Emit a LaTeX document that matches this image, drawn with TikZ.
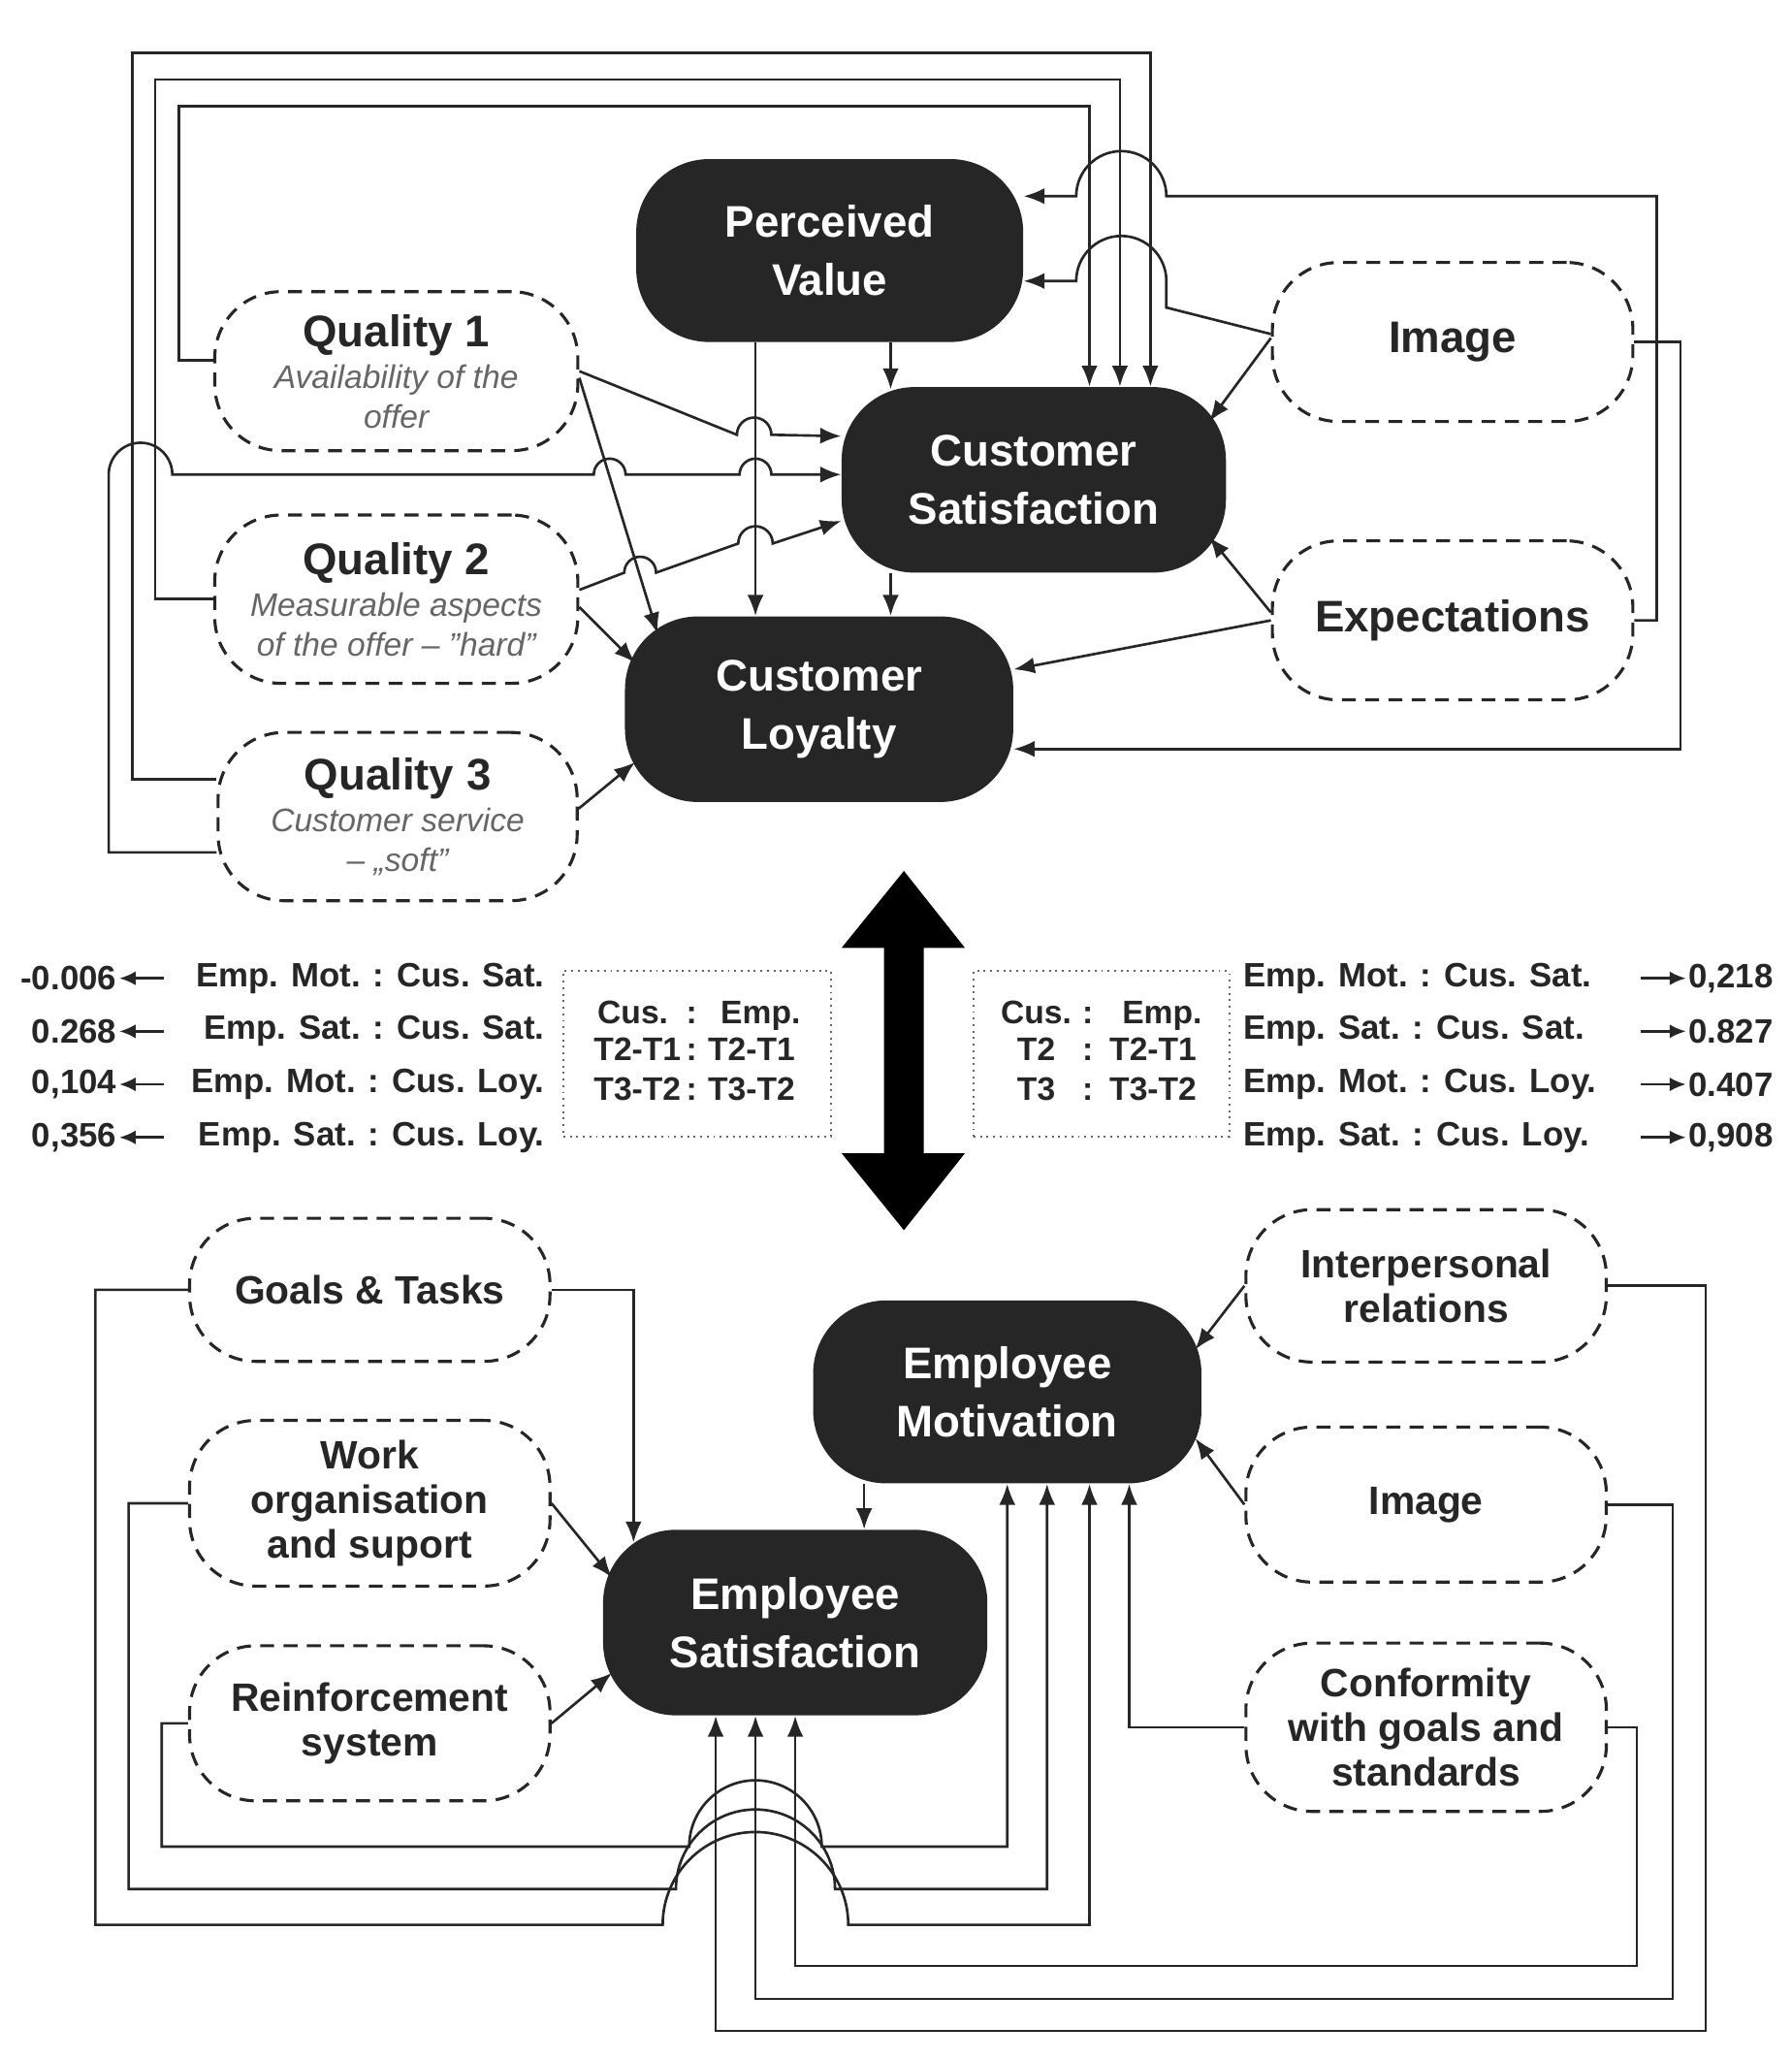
\documentclass[tikz,border=0pt]{standalone}
\usepackage{fontspec}
\setmainfont{Liberation Sans}
\usetikzlibrary{arrows.meta,calc}
\newcommand\subtx{\mdseries\itshape\fontsize{14}{16}\selectfont\color{black!60}}
\begin{document}
\begin{tikzpicture}[x=0.02cm,y=-0.02cm,
  con/.style={line width=1.1pt,draw=black!85},
  arr/.style={con,-{Latex[length=9pt,width=7pt]}},
  blk/.style={rectangle,rounded corners=1.1cm,fill=black!85,text=white,align=center,
    font=\bfseries\fontsize{19}{25}\selectfont,inner sep=0pt},
  dsh/.style={rectangle,rounded corners=1cm,draw=black!85,line width=1.3pt,dash pattern=on 6pt off 4pt,
    align=center,text=black!85,font=\bfseries\fontsize{19}{23}\selectfont,inner sep=0pt},
  dshb/.style={dsh,font=\bfseries\fontsize{17}{19}\selectfont},
  mid/.style={font=\bfseries\fontsize{14.5}{17}\selectfont,text=black!85,inner sep=1pt},
  box/.style={draw=black!60,dotted,line width=0.8pt,inner sep=0pt,font=\bfseries\fontsize{14}{17}\selectfont,text=black!85},
  sarr/.style={con,-{Latex[length=7pt,width=6pt]}}]
\useasboundingbox (0,0) rectangle (1352,1554);
% main nodes
\node[blk,minimum width=5.84cm,minimum height=2.76cm] (pv) at (626,189) {Perceived\\Value};
\node[blk,minimum width=5.8cm,minimum height=2.8cm] (cs) at (780,362) {Customer\\Satisfaction};
\node[blk,minimum width=5.86cm,minimum height=2.8cm] (cl) at (618,535) {Customer\\Loyalty};
\node[dsh,minimum width=5.48cm,minimum height=2.4cm] (q1) at (299,280) {Quality 1\\[-5pt]\subtx Availability of the\\[-6pt]\subtx offer};
\node[dsh,minimum width=5.48cm,minimum height=2.54cm] (q2) at (299,452) {Quality 2\\[-5pt]\subtx Measurable aspects\\[-6pt]\subtx of the offer -- \symbol{34}hard\symbol{34}};
\node[dsh,minimum width=5.42cm,minimum height=2.54cm] (q3) at (300,616) {Quality 3\\[-5pt]\subtx Customer service\\[-6pt]\subtx – „soft”};
\node[dsh,minimum width=5.44cm,minimum height=2.4cm] (im) at (1096,258) {Image};
\node[dsh,minimum width=5.44cm,minimum height=2.4cm] (ex) at (1096,468) {Expectations};
\node[blk,minimum width=5.86cm,minimum height=2.76cm] (em) at (760,1050) {Employee\\Motivation};
\node[blk,minimum width=5.8cm,minimum height=2.8cm] (es) at (600,1224) {Employee\\Satisfaction};
\node[dshb,minimum width=5.44cm,minimum height=2.16cm] (gt) at (279,973) {Goals \& Tasks};
\node[dshb,minimum width=5.44cm,minimum height=2.5cm] (wo) at (279,1134) {Work\\organisation\\and suport};
\node[dshb,minimum width=5.44cm,minimum height=2.34cm] (rs) at (279,1300) {Reinforcement\\system};
\node[dshb,minimum width=5.44cm,minimum height=2.3cm] (ip) at (1076,970) {Interpersonal\\relations};
\node[dshb,minimum width=5.44cm,minimum height=2.34cm] (im2) at (1076,1135) {Image};
\node[dshb,minimum width=5.44cm,minimum height=2.54cm] (cf) at (1076,1303) {Conformity\\with goals and\\standards};
% top loops
\draw[arr] ($(q3.west)+(0,-28)$) -- (100,588) -- (100,40) -- (868,40) -- ($(cs.north)+(88,0)$);
\draw[arr] (q2.west) -- (117,452) -- (117,60) -- (845,60) -- ($(cs.north)+(65,0)$);
\draw[arr] ($(q1.west)+(0,-8)$) -- (135,272) -- (135,80) -- (822,80) -- ($(cs.north)+(42,0)$);
\draw[arr] ($(q3.west)+(0,27)$) -- (82,643) -- (82,358) arc[start angle=180,end angle=360,radius=24]
  -- (448,358) arc[start angle=180,end angle=360,radius=12] -- (558,358) arc[start angle=180,end angle=360,radius=12] -- ($(cs.west)+(0,-4)$);
\draw[arr] (q1.east) -- (556,328) arc[start angle=180,end angle=360,radius=13] -- ($(cs.west)+(0,-33)$);
\draw[arr] ($(q1.east)+(0,5)$) -- ($(cl.west)+(25,-57)$);
\draw[arr] ($(q2.east)+(0,-7)$) -- (471,432) arc[start angle=180,end angle=360,radius=12] -- (557,410) arc[start angle=180,end angle=360,radius=13] -- ($(cs.west)+(0,31)$);
\draw[arr] ($(q2.east)+(0,6)$) -- ($(cl.west)+(8,-35)$);
\draw[arr] ($(q3.east)+(0,-6)$) -- ($(cl.west)+(8,40)$);
\draw[arr] ($(pv.south)+(46,0)$) -- ($(cs.north)+(-108,2)$);
\draw[arr] ($(pv.south)+(-56,0)$) -- ($(cl.north)+(-48,0)$);
\draw[arr] ($(cs.south)+(-108,0)$) -- ($(cl.north)+(54,0)$);
\draw[arr] ($(im.west)+(0,-3)$) -- ($(cs.east)+(-13,-44)$);
\draw[arr] ($(im.west)+(0,-6)$) -- (880,232) -- (880,212) arc[start angle=0,end angle=-180,radius=34] -- ($(pv.east)+(0,23)$);
\draw[arr] (ex.east) -- (1250,468) -- (1250,148) -- (880,148) arc[start angle=0,end angle=-180,radius=34] -- ($(pv.east)+(0,-41)$);
\draw[arr] (im.east) -- (1268,258) -- (1268,565) -- ($(cl.east)+(0,30)$);
\draw[arr] ($(ex.west)+(0,-6)$) -- ($(cs.east)+(-13,43)$);
\draw[arr] (ex.west) -- ($(cl.east)+(0,-30)$);
% big double arrow
\fill[black] (682,657) -- (728,715) -- (697,715) -- (697,870) -- (728,870) -- (682,928) -- (635,870) -- (667,870) -- (667,715) -- (635,715) -- cycle;
% middle tables
\node[box,minimum width=4.04cm,minimum height=2.5cm] (bl) at (526,795) {\begin{tabular}{@{}c@{\,:\,}c@{}}Cus.\ \  & \ \ Emp.\\[-1pt] T2-T1 & T2-T1\\ T3-T2 & T3-T2\end{tabular}};
\node[box,minimum width=3.86cm,minimum height=2.5cm] (br) at (831,795) {\begin{tabular}{@{}c@{\,\,:\,\,}c@{}}Cus. & \ \ Emp.\\[-1pt] T2 & T2-T1\\ T3 & T3-T2\end{tabular}};
\foreach \i/\y/\n/\t in {1/738/-0.006/Emp. Mot. : Cus. Sat.,2/778/0.268/Emp. Sat. : Cus. Sat.,3/818/0{,}104/Emp. Mot. : Cus. Loy.,4/858/0{,}356/Emp. Sat. : Cus. Loy.}{
  \node[mid,anchor=east] (ln\i) at (90,\y) {\n};
  \node[mid,anchor=east] (lt\i) at (413,\y) {\t};
  \draw[sarr] ($(ln\i.east)+(34,0)$) -- (ln\i.east);}
\foreach \i/\y/\n/\t in {1/738/0{,}218/Emp. Mot. : Cus. Sat.,2/778/0.827/Emp. Sat. : Cus. Sat.,3/818/0.407/Emp. Mot. : Cus. Loy.,4/858/0{,}908/Emp. Sat. : Cus. Loy.}{
  \node[mid,anchor=east] (rn\i) at (1340,\y) {\n};
  \node[mid,anchor=west] (rt\i) at (936,\y) {\t};
  \draw[sarr] ($(rn\i.west)+(-34,0)$) -- (rn\i.west);}
% bottom connectors
\draw[arr] (gt.west) -- (72,973) -- (72,1452) -- (500,1452) arc[start angle=180,end angle=360,radius=70] -- (822,1452) -- ($(em.south)+(62,0)$);
\draw[arr] (wo.west) -- (97,1134) -- (97,1425) -- (510,1425) arc[start angle=180,end angle=360,radius=60] -- (790,1425) -- ($(em.south)+(30,0)$);
\draw[arr] (rs.west) -- (122,1300) -- (122,1393) -- (520,1393) arc[start angle=180,end angle=360,radius=50] -- (760,1393) -- (em.south);
\draw[arr] (gt.east) -- (478,973) -- ($(es.north)+(-122,10)$);
\draw[arr] (wo.east) -- ($(es.west)+(7,-34)$);
\draw[arr] (rs.east) -- ($(es.west)+(7,38)$);
\draw[arr] (ip.west) -- ($(em.east)+(-5,-32)$);
\draw[arr] (im2.west) -- ($(em.east)+(-5,35)$);
\draw[arr] ($(em.south)+(-108,0)$) -- ($(es.north)+(52,0)$);
\draw[arr] (cf.west) -- (852,1303) -- ($(em.south)+(92,0)$);
\draw[arr] (cf.east) -- (1235,1303) -- (1235,1483) -- (600,1483) -- (es.south);
\draw[arr] (im2.east) -- (1262,1135) -- (1262,1508) -- (570,1508) -- ($(es.south)+(-30,0)$);
\draw[arr] (ip.east) -- (1287,970) -- (1287,1532) -- (540,1532) -- ($(es.south)+(-60,0)$);
\end{tikzpicture}
\end{document}
